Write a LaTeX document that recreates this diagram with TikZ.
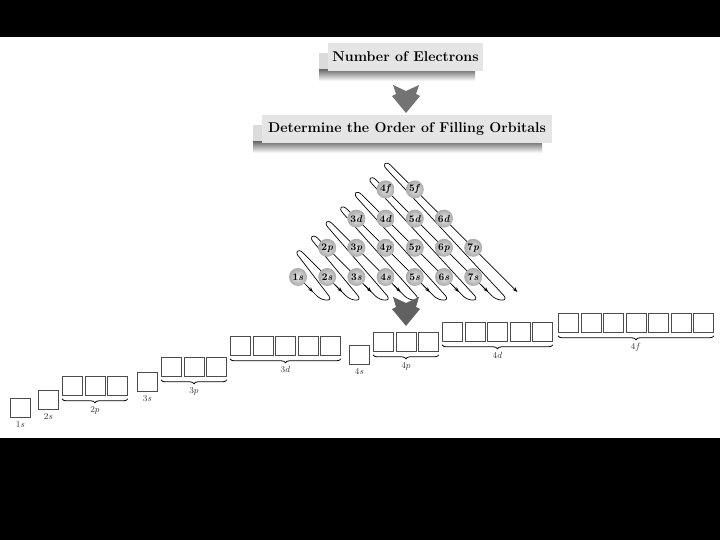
\documentclass[tikz,border=0pt]{standalone}
\usetikzlibrary{arrows.meta,decorations.pathreplacing,shadings}
\begin{document}
\begin{tikzpicture}[x=1pt,y=-1pt,
  topbox/.style={fill=black!10, inner sep=0pt, font=\fontsize{14.2}{16}\selectfont\bfseries},
  zline/.style={draw=black, line width=0.7pt},
  arrline/.style={draw=black, line width=0.7pt, -{Stealth[length=5pt,width=3.6pt]}},
  orb/.style={circle, minimum size=18pt, inner sep=0pt, shade, inner color=black!10, outer color=black!33, font=\fontsize{10}{10}\selectfont},
  obox/.style={draw=black!70, line width=0.8pt, fill=white, minimum width=20pt, minimum height=19pt, inner sep=0pt, anchor=north west},
  olab/.style={font=\fontsize{9.5}{10}\selectfont, text=black!80, inner sep=1pt},
  bracel/.style={draw=black, line width=0.8pt, decorate, decoration={brace, mirror, amplitude=4pt}},
  chev/.style={fill=black!55}
]
\useasboundingbox (0,0) rectangle (720,540);
\fill[black] (0,0) rectangle (720,540);
\fill[white] (0,37) rectangle (720,438);

% top box 1
\fill[black!14] (319,53) rectangle (475,74);
\shade[top color=black!55, bottom color=white] (319,70) rectangle (475,81);
\node[topbox, minimum width=155pt, minimum height=28pt] (nelec) at (405.5,57) {Number of Electrons};
% arrow 1
\fill[chev] (393,85) -- (406,91) -- (419,85) -- (416,94) -- (420,96) -- (406,113) -- (392,96) -- (396,94) -- cycle;
% top box 2
\fill[black!14] (253,125) rectangle (542,146);
\shade[top color=black!55, bottom color=white] (253,142) rectangle (542,153);
\node[topbox, minimum width=290pt, minimum height=28pt] (order) at (407,129) {Determine the Order of Filling Orbitals};

% snake lines
\foreach \k in {1,...,7}{
  \pgfmathsetmacro\ca{21+29.2*(\k-1)}
  \pgfmathsetmacro\cb{21+29.2*\k}
  \pgfmathsetmacro\sx{\k==1 ? 298 : (556+\ca)/2}
  \pgfmathsetmacro\sy{\k==1 ? 277 : (556-\ca)/2}
  \pgfmathsetmacro\bx{\ca+296}
  \pgfmathsetmacro\rbx{\ca+308}
  \pgfmathsetmacro\rtx{(548+\cb)/2}
  \pgfmathsetmacro\rty{(564-\cb)/2}
  \pgfmathsetmacro\tx{(556+\cb)/2}
  \pgfmathsetmacro\ty{(556-\cb)/2}
  \draw[zline] (\sx,\sy) -- (\bx,296) .. controls +(5,5) and +(4,6) .. (\rbx,296) -- (\rtx,\rty) .. controls +(-5,-5) and +(-5,-5) .. (\tx,\ty);
  \draw[arrline] (\ca+285,285) -- (\ca+292,292);
}
\draw[arrline] (390.7,165.3) -- (517.4,292);

% orbital circles
\foreach \n/\l/\t in {1/0/s,2/0/s,3/0/s,4/0/s,5/0/s,6/0/s,7/0/s,
                      2/1/p,3/1/p,4/1/p,5/1/p,6/1/p,7/1/p,
                      3/2/d,4/2/d,5/2/d,6/2/d,
                      4/3/f,5/3/f}
  \node[orb] (o\n\t) at ({298+29.2*(\n-1)},{277-29.2*\l}) {\textbf{\n\textit{\t}}};

% arrow 2
\fill[chev, fill=black!62] (393,297) -- (406,303) -- (419,297) -- (416,307) -- (420,309) -- (406,326) -- (392,309) -- (396,307) -- cycle;

% orbital boxes
\foreach \x/\y/\m/\lab/\nm in {10/398/1/1s/a, 38/390/1/2s/b, 62/376/3/2p/c, 137/372/1/3s/d, 161/357/3/3p/e, 230/336/5/3d/f, 349/345/1/4s/g, 373/332/3/4p/h, 442/322/5/4d/i, 558/313/7/4f/j}{
  \foreach \i in {1,...,\m}
    \node[obox] (b\nm\i) at ({\x+22.5*(\i-1)},\y) {};
  \ifnum\m=1
    \node[olab, below=3pt] (l\nm) at (b\nm1.south) {$\lab$};
  \else
    \draw[bracel] ([yshift=-3pt]b\nm1.south west) -- ([yshift=-3pt]b\nm\m.south east) node[midway, below=6pt, olab] (l\nm) {$\lab$};
  \fi
}
\end{tikzpicture}
\end{document}
